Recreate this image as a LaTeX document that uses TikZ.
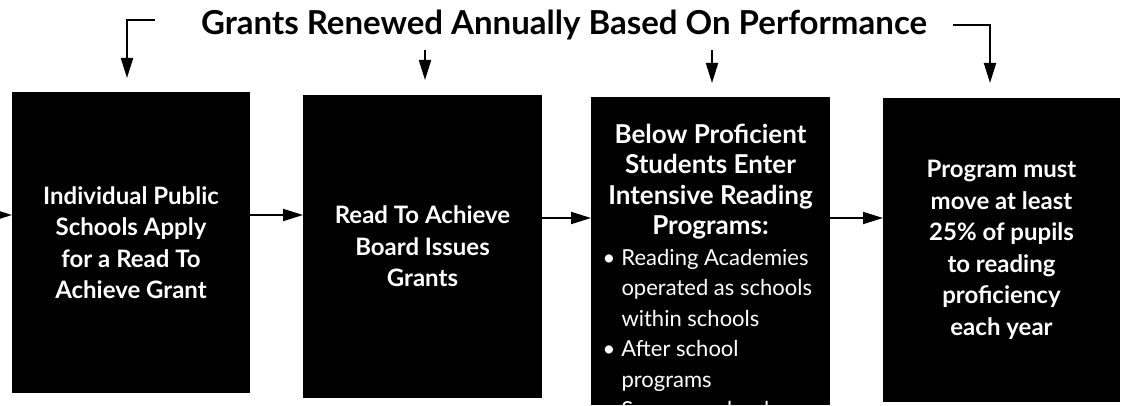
\documentclass[tikz,border=0pt]{standalone}
\usepackage{fontspec}
\setmainfont{Lato}
\usetikzlibrary{arrows.meta,positioning}

\newcommand{\headline}[1]{\makebox[232pt]{\bfseries\fontsize{26}{30.5}\selectfont #1}}
\newcommand{\bulletline}[1]{\hspace*{8pt}\makebox[19pt][l]{\textbullet}#1}
\newcommand{\restline}[1]{\hspace*{27pt}#1}

\begin{document}
\begin{tikzpicture}[x=1pt,y=-1pt,line width=2pt,>={Triangle[length=20pt,width=12pt]},
  block/.style={fill=black,text=white,inner sep=0pt,outer sep=0pt,align=center,
    font=\bfseries\fontsize{24}{31.5}\selectfont}]
  \useasboundingbox (0,0) rectangle (1125,406);

  \node[block, minimum width=238pt, minimum height=301pt] (apply) at (131,242.5)
    {Individual Public\\ Schools Apply\\ for a Read To\\ Achieve Grant};
  \node[block, minimum width=239pt, minimum height=303pt] (board) at (422.5,246.5)
    {Read To Achieve\\ Board Issues\\ Grants};
  \node[block, minimum width=239pt, minimum height=308pt] (enter) at (710.5,251) {};
  \node[block, minimum width=237pt, minimum height=304pt] (goal) at (1001.5,250)
    {Program must\\ move at least\\ 25\% of pupils\\ to reading\\ proficiency\\ each year};

  % the list in the third box runs past its bottom edge
  \begin{scope}
    \clip (enter.south west) rectangle (enter.north east);
    \node[text=white, inner sep=0pt, align=left, anchor=north,
      font=\fontsize{22}{30.5}\selectfont] (enterlist) at (710.5,123)
      {\headline{Below Proficient}\\
       \headline{Students Enter}\\
       \headline{Intensive Reading}\\
       \headline{Programs:}\\
       \bulletline{Reading Academies}\\
       \restline{operated as schools}\\
       \restline{within schools}\\
       \bulletline{After school}\\
       \restline{programs}\\
       \bulletline{Summer school}};
  \end{scope}

  \node[font=\bfseries\fontsize{33}{36}\selectfont, inner sep=0pt] (title) at (564,25)
    {Grants Renewed Annually Based On Performance};

  \coordinate (inlet) at (-20,215);
  \coordinate (row) at (0,218);
  \coordinate (lefttop) at (155,20);
  \coordinate (righttop) at (953,25);
  \coordinate (boardtop) at (425,50);
  \coordinate (entertop) at (712,50);

  \draw[->] (inlet) -- (apply.west |- inlet);
  \path (apply.east |- inlet) edge[->] (board.west |- inlet);
  \path (board.east |- row) edge[->] (enter.west |- row);
  \path (enter.east |- row) edge[->] (goal.west |- row);

  \draw[->] (lefttop) -| ([xshift=-4pt,yshift=14pt]apply.north);
  \draw[->] (righttop) -| ([xshift=-11.5pt,yshift=15pt]goal.north);
  \draw[->] (boardtop) -- ([xshift=2.5pt,yshift=15pt]board.north);
  \draw[->] (entertop) -- ([xshift=1.5pt,yshift=14pt]enter.north);
\end{tikzpicture}
\end{document}
